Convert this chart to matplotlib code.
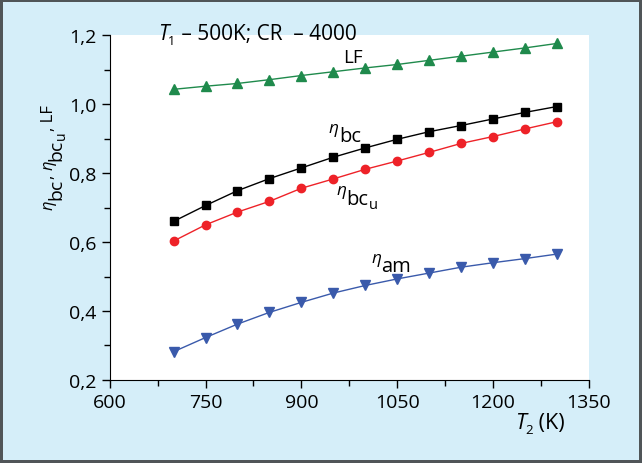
import matplotlib
matplotlib.use('Agg')
import matplotlib.pyplot as plt
from matplotlib.ticker import MultipleLocator, FuncFormatter
from matplotlib.transforms import IdentityTransform

plt.rcParams['font.family'] = ['Open Sans', 'DejaVu Sans']

# Dados
t2 = [700, 750, 800, 850, 900, 950, 1000, 1050, 1100, 1150, 1200, 1250, 1300]
lf = [1.043, 1.052, 1.060, 1.071, 1.083, 1.094, 1.105, 1.115, 1.127, 1.139, 1.151, 1.163, 1.176]
eta_bc = [0.660, 0.706, 0.749, 0.784, 0.815, 0.846, 0.873, 0.898, 0.920, 0.938, 0.957, 0.976, 0.993]
eta_bcu = [0.603, 0.650, 0.687, 0.718, 0.756, 0.783, 0.811, 0.835, 0.860, 0.886, 0.906, 0.928, 0.949]
eta_am = [0.282, 0.323, 0.362, 0.396, 0.425, 0.452, 0.474, 0.493, 0.510, 0.527, 0.540, 0.552, 0.565]

fig = plt.figure(figsize=(6.42, 4.64), dpi=100, facecolor='#d5eef9',
                 edgecolor='#505558', linewidth=3)
ax = fig.add_axes([0.171, 0.179, 0.746, 0.743])

ax.plot(t2, lf, color='#1f8a4c', marker='^', markersize=6.5, linewidth=1)
ax.plot(t2, eta_bc, color='black', marker='s', markersize=6, linewidth=1)
ax.plot(t2, eta_bcu, color='#ee2228', marker='o', markersize=6, linewidth=1)
ax.plot(t2, eta_am, color='#3a5aab', marker='v', markersize=6.5, linewidth=1)

ax.set_xlim(600, 1350)
ax.set_ylim(0.2, 1.2)
ax.xaxis.set_major_locator(MultipleLocator(150))
ax.xaxis.set_minor_locator(MultipleLocator(75))
ax.yaxis.set_major_locator(MultipleLocator(0.2))
ax.yaxis.set_minor_locator(MultipleLocator(0.1))
ax.yaxis.set_major_formatter(FuncFormatter(lambda v, p: f'{v:.1f}'.replace('.', ',')))

for s in ['top', 'right']:
    ax.spines[s].set_visible(False)
ax.tick_params(which='major', direction='out', length=6, labelsize=14, width=1)
ax.tick_params(which='minor', direction='out', length=4, width=1)

H = 464
renderer = fig.canvas.get_renderer()


# texto composto: pedaços (texto, tamanho, estilo, descida em px)
def compose(x, y, parts, rot=0):
    adv = 0.0
    for s, size, style, drop in parts:
        if rot == 0:
            px, py = x + adv, y - drop
        else:
            px, py = x + drop, y + adv
        t = fig.text(px, py, s, transform=IdentityTransform(), fontsize=size,
                     style=style, rotation=rot, rotation_mode='anchor',
                     ha='left', va='baseline')
        bb = t.get_window_extent(renderer)
        adv += bb.width if rot == 0 else bb.height


def compose_data(xd, yd, parts):
    x, y = ax.transData.transform((xd, yd))
    compose(x, y, parts)


# Rótulos das curvas
compose_data(966, 1.123, [('LF', 13.5, 'normal', 0)])
compose_data(943, 0.919, [('η', 12.5, 'italic', 0), ('bc', 14.5, 'normal', 9)])
compose_data(955, 0.738, [('η', 12.5, 'italic', 0), ('bc', 14.5, 'normal', 10),
                          ('u', 10.5, 'normal', 14)])
compose_data(1010, 0.542, [('η', 12.5, 'italic', 0), ('am', 14.5, 'normal', 9)])

# título, eixo x e eixo y
compose(158, H - 40, [('T', 15, 'italic', 0), ('1', 9, 'normal', 5),
                      (' – 500K; CR  – 4000', 15, 'normal', 0)])
compose(515, H - 429, [('T', 15.5, 'italic', 0), ('2', 9.5, 'normal', 5),
                       (' (K)', 15.5, 'normal', 0)])
compose(53, H - 210, [('η', 12, 'italic', 0), ('bc', 14, 'normal', 8),
                      (', ', 12, 'normal', 0), ('η', 12, 'italic', 0),
                      ('bc', 14, 'normal', 8), ('u', 10, 'normal', 12),
                      (', LF', 12, 'normal', 0)], rot=90)

fig.savefig('out.png', dpi=100, facecolor=fig.get_facecolor(), edgecolor=fig.get_edgecolor())
